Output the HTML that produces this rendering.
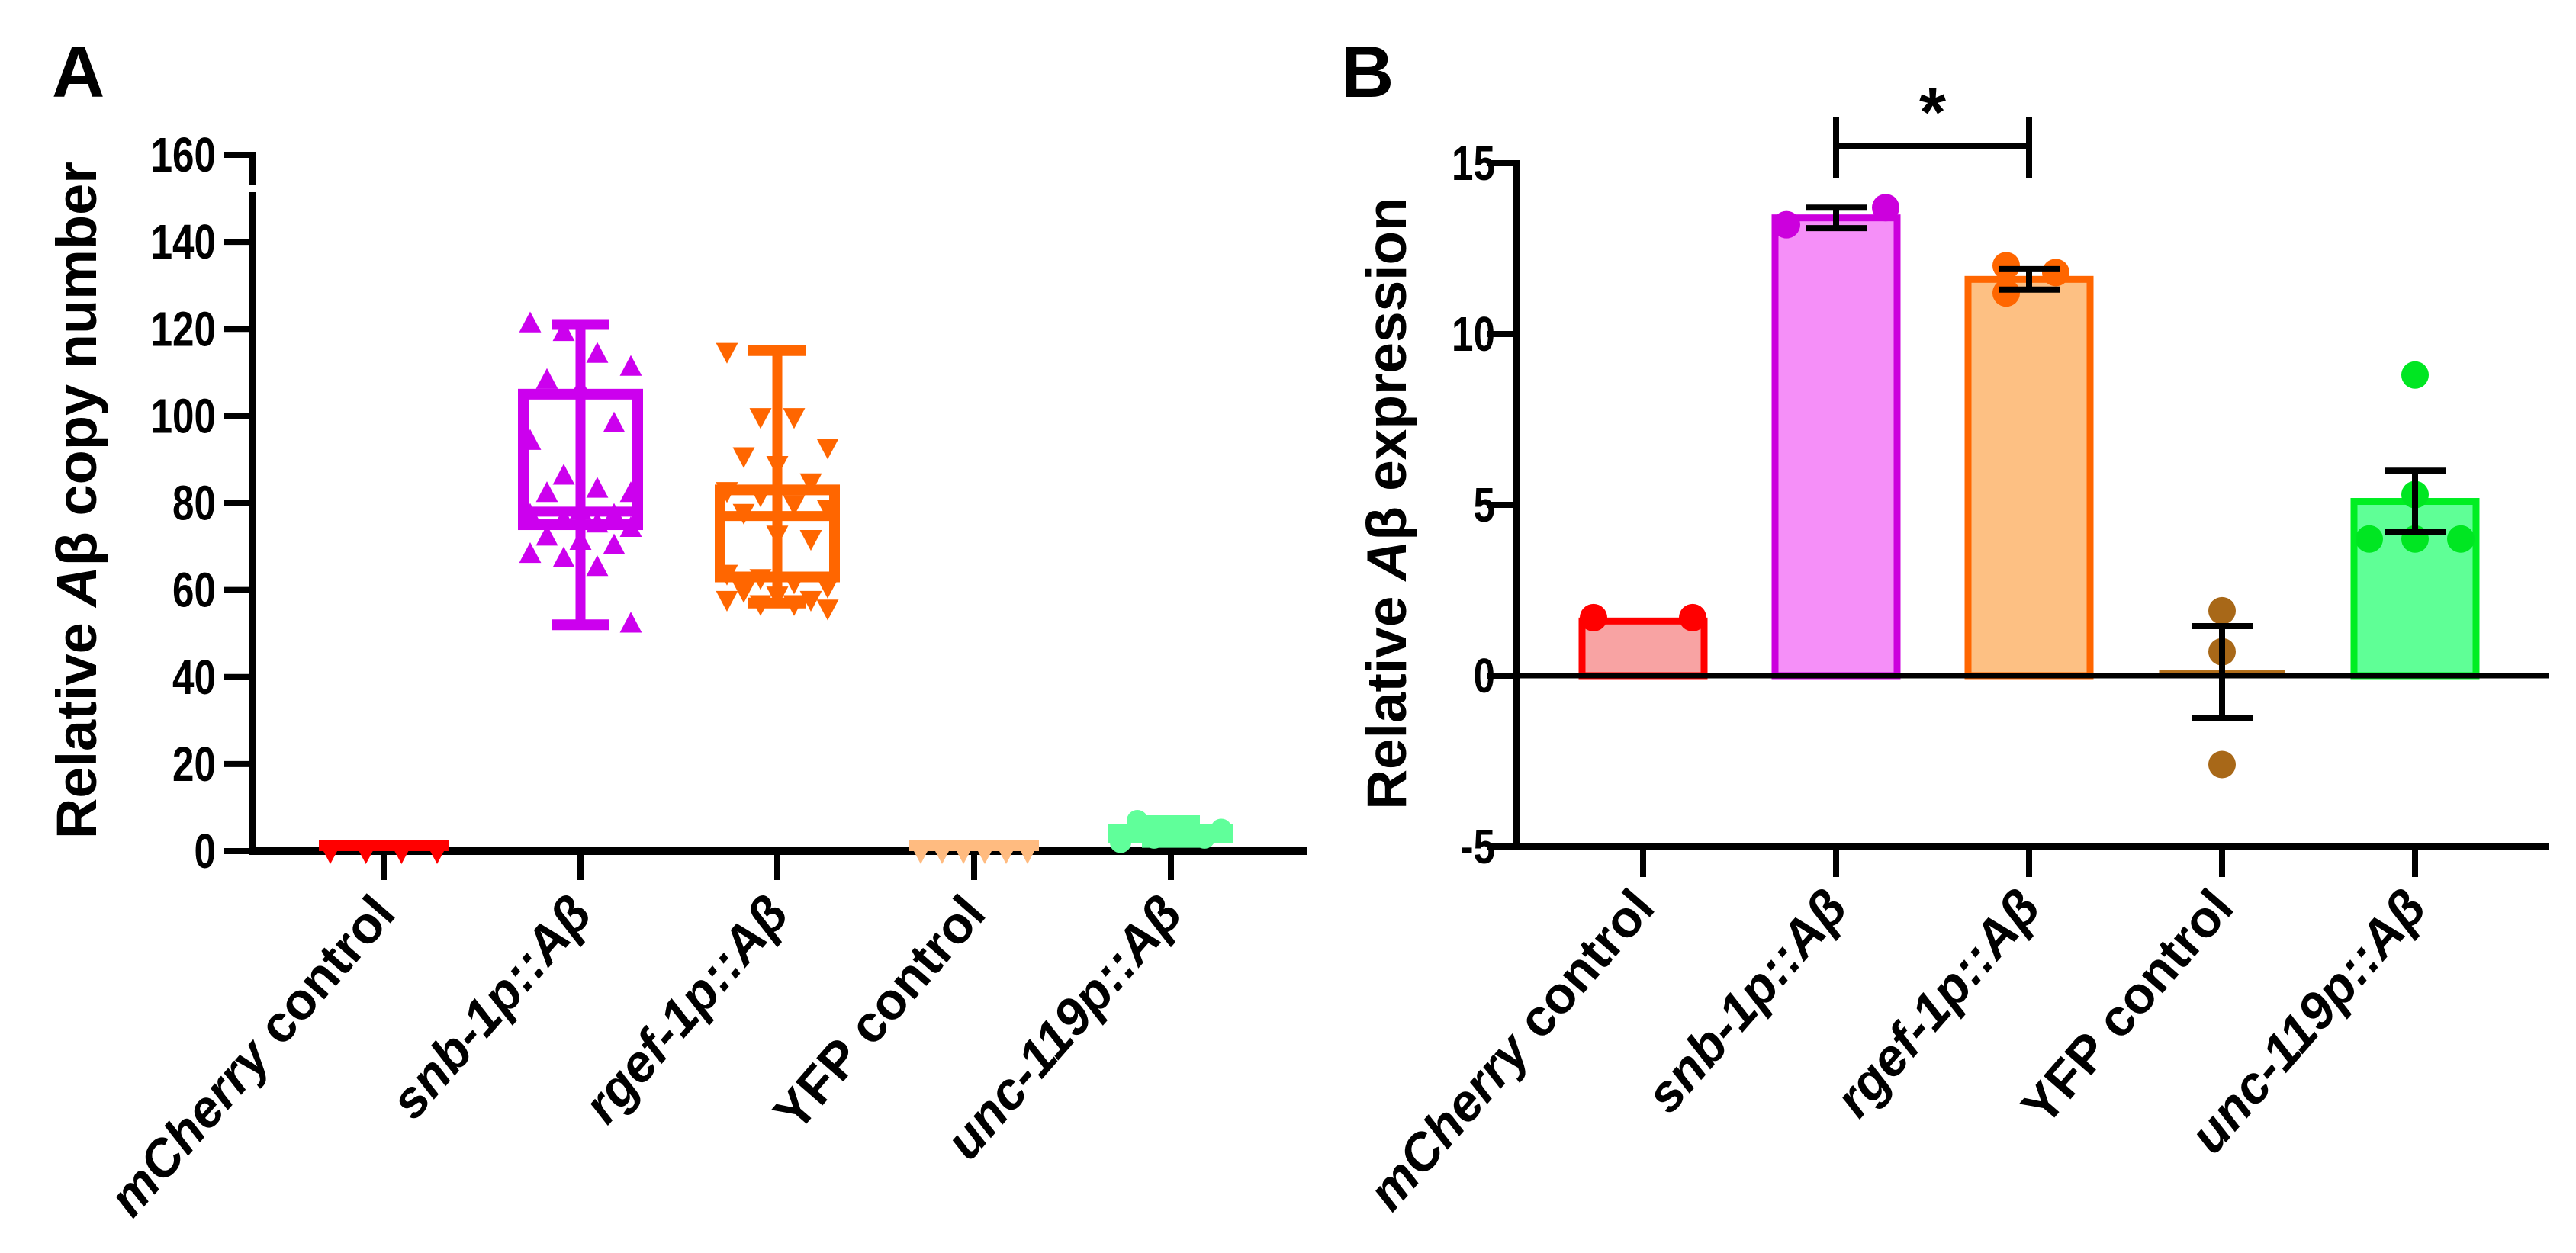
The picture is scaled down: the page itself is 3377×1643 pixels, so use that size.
<!DOCTYPE html>
<html><head><meta charset="utf-8"><style>
html,body{margin:0;padding:0;background:#fff}
svg{display:block;font-family:"Liberation Sans",Arial,sans-serif;font-weight:bold}
</style></head><body>
<svg id="fig" width="3377" height="1643" viewBox="0 0 3377 1643" xmlns="http://www.w3.org/2000/svg">
<rect width="3377" height="1643" fill="#fff"/>
<text x="68" y="127" font-size="96">A</text>
<text x="1758" y="127" font-size="96">B</text>
<g id="pa"></g>
<g id="pb"></g>
</svg>
<script>
const categories = ["mCherry control","snb-1p::Aβ","rgef-1p::Aβ","YFP control","unc-119p::Aβ"];
const aTicks = [0,20,40,60,80,100,120,140,160];
const bTicks = [-5,0,5,10,15];
// Panel A box stats: [min, q1, median, q3, max]
const aBoxes = [[0,0,0.5,1.5,1.5],[52,75,78,105,121],[57,63,77,83,115],[0,0,0.5,1.5,1.5],[2,3,4,5,7]];
const aSnbPts = [121,119,114,111,108,106,98,94,86,83,82,82,78,77,77,76,75,74,72,71,70,68,67,65,52];
const aRgefPts = [115,100,100,93,91,89,85,83,82,80,79,78,73,72,64,63,62,61,60,59,58,58,57,57,56];
const aMchPts = [0.5,0.5,0.5,0.5];
const aYfpPts = [0.5,0.5,0.5,0.5,0.5,0.5];
const aUncPts = [2,3,4,5,7,4,3];
// Panel B
const bMeans = [1.6,13.4,11.6,0.1,5.1];
const bSem = [0,0.3,0.3,1.35,0.9];
const bPts = [[1.7,1.7],[13.2,13.7],[12.0,11.2,11.8],[1.9,0.7,-2.6],[8.8,5.3,4.0,4.0,4.0]];

const NS="http://www.w3.org/2000/svg";
function mk(p,t,a){const e=document.createElementNS(NS,t);for(const k in a)e.setAttribute(k,a[k]);p.appendChild(e);return e;}
const pa=document.getElementById('pa'), pb=document.getElementById('pb');

// ---------- Panel A ----------
const ax0=331, ax1=1713, ay0=1116, ay160=203;
const ya=v=>ay0+(ay160-ay0)*v/160;
const xa=i=>503+i*258;
const aStroke=["#ff0000","#cc00ee","#ff6600","#ffbb80","#60ff9a"];
let e;
e=mk(pa,'line',{x1:ax0,y1:ya(0)+4,x2:ax0,y2:252,stroke:'#000','stroke-width':9});

e=mk(pa,'line',{x1:ax0,y1:243,x2:ax0,y2:ya(160)-4,stroke:'#000','stroke-width':9});

e=mk(pa,'line',{x1:ax0-4,y1:ya(0),x2:ax1,y2:ya(0),stroke:'#000','stroke-width':10});

aTicks.forEach(v=>{
  e=mk(pa,'line',{x1:ax0-38,y1:ya(v),x2:ax0,y2:ya(v),stroke:'#000','stroke-width':8});
  
  e=mk(pa,'text',{transform:`translate(283,${ya(v)+22}) scale(0.8,1)`,'font-size':64,'text-anchor':'end'});e.textContent=v;
  
});
const yt=mk(pa,'text',{transform:'translate(126,656) rotate(-90)','font-size':74,'text-anchor':'middle'});

yt.innerHTML='Relative <tspan font-style="italic">A</tspan>β  copy number';

function drawBox(i,b,col,w){
  const cx=xa(i),g=mk(pa,'g',{});
  
  mk(g,'line',{x1:cx,y1:ya(b[0]),x2:cx,y2:ya(b[4]),stroke:col,'stroke-width':13});
  mk(g,'line',{x1:cx-38,y1:ya(b[0]),x2:cx+38,y2:ya(b[0]),stroke:col,'stroke-width':14});
  mk(g,'line',{x1:cx-38,y1:ya(b[4]),x2:cx+38,y2:ya(b[4]),stroke:col,'stroke-width':14});
  mk(g,'rect',{x:cx-w/2,y:ya(b[3]),width:w,height:Math.max(ya(b[1])-ya(b[3]),1),fill:'none',stroke:col,'stroke-width':14});
  mk(g,'line',{x1:cx-w/2,y1:ya(b[2]),x2:cx+w/2,y2:ya(b[2]),stroke:col,'stroke-width':13});
}
function tri(g,x,y,up,col,s){
  const p=up?[[x,y-s],[x-s*0.85,y+s*0.6],[x+s*0.85,y+s*0.6]]:[[x,y+s],[x-s*0.85,y-s*0.6],[x+s*0.85,y-s*0.6]];
  return mk(g,'polygon',{points:p.map(q=>q.join(',')).join(' '),fill:col});
}
function drawPts(i,pts,col,kind){
  const g=mk(pa,'g',{});
  
  pts.forEach((v,k)=>{
    const off=((k*37)%7-3)*22;
    const x=xa(i)+off;
    if(kind==='c') mk(g,'circle',{cx:x,cy:ya(v),r:14,fill:col});
    else tri(g,x,ya(v),kind==='u',col,17);
  });
}
[[0,aMchPts],[3,aYfpPts]].forEach(([i,pts])=>{
  const g=mk(pa,'g',{});
  mk(g,'rect',{x:xa(i)-85,y:ya(aBoxes[i][3])-6,width:170,height:ya(0)-ya(aBoxes[i][3])+6,fill:aStroke[i]});
  pts.forEach((v,k)=>tri(g,xa(i)-70+k*(140/(pts.length-1)),ya(0)+6,false,aStroke[i],11));
});
drawBox(1,aBoxes[1],aStroke[1],150);
drawPts(1,aSnbPts,aStroke[1],'u');
drawBox(2,aBoxes[2],aStroke[2],150);
drawPts(2,aRgefPts,aStroke[2],'d');
drawBox(4,aBoxes[4],aStroke[4],150);
drawPts(4,aUncPts,aStroke[4],'c');
categories.forEach((c,i)=>{
  e=mk(pa,'line',{x1:xa(i),y1:ya(0),x2:xa(i),y2:ya(0)+38,stroke:'#000','stroke-width':8});
  
});

// ---------- Panel B ----------
const bx0=1988, bx1=3341;
const yb=v=>886-v*44.8;
const xb=i=>2154+i*253;
const bFill=["#f8a3a3","#f58ff8","#fdc083","#fdb97d","#5fff96"];
const bStroke=["#ff0000","#cc00dd","#ff6600","#b06d1a","#00ee22"];
const bDot=["#ff0000","#cc00dd","#ff6600","#a86818","#00e622"];
e=mk(pb,'line',{x1:bx0,y1:yb(-5)+4,x2:bx0,y2:yb(15)-4,stroke:'#000','stroke-width':9});

bTicks.forEach(v=>{
  e=mk(pb,'line',{x1:bx0-38,y1:yb(v),x2:bx0,y2:yb(v),stroke:'#000','stroke-width':8});
  
  e=mk(pb,'text',{transform:`translate(1960,${yb(v)+22}) scale(0.8,1)`,'font-size':64,'text-anchor':'end'});e.textContent=v;
  
});
const yt2=mk(pb,'text',{transform:'translate(1843,660) rotate(-90)','font-size':73,'text-anchor':'middle'});

yt2.innerHTML='Relative <tspan font-style="italic">A</tspan>β  expression';
bMeans.forEach((m,i)=>{
  const g=mk(pb,'g',{});
  
  const top=Math.min(yb(m),yb(0)),h=Math.abs(yb(m)-yb(0));
  mk(g,'rect',{x:xb(i)-80,y:top,width:160,height:Math.max(h,2),fill:bFill[i],stroke:bStroke[i],'stroke-width':i===3?5:9});
});
e=mk(pb,'line',{x1:bx0,y1:yb(0),x2:bx1,y2:yb(0),stroke:'#000','stroke-width':7});

bPts.forEach((pts,i)=>{
  const g=mk(pb,'g',{});
  
  pts.forEach((v,k)=>{
    const n=pts.length;
    let off = n===1?0:(i===3?0:(k-(n-1)/2)*(130/(n-1)));
    if(i===4){off=[0,0,-60,0,60][k];}
    if(i===2){off=[-30,-30,35][k];}
    mk(g,'circle',{cx:xb(i)+off,cy:yb(v),r:18,fill:bDot[i]});
  });
  if(bSem[i]>0){
    const c=xb(i);
    const eg=mk(pb,'g',{});
    mk(eg,'line',{x1:c,y1:yb(bMeans[i]-bSem[i]),x2:c,y2:yb(bMeans[i]+bSem[i]),stroke:'#000','stroke-width':8});
    [bMeans[i]-bSem[i],bMeans[i]+bSem[i]].forEach(v=>mk(eg,'line',{x1:c-40,y1:yb(v),x2:c+40,y2:yb(v),stroke:'#000','stroke-width':8}));
  }
});
e=mk(pb,'line',{x1:bx0-4,y1:yb(-5),x2:bx1,y2:yb(-5),stroke:'#000','stroke-width':10});

categories.forEach((c,i)=>{
  e=mk(pb,'line',{x1:xb(i),y1:yb(-5),x2:xb(i),y2:yb(-5)+40,stroke:'#000','stroke-width':8});
  
});
const sg=mk(pb,'g',{});
mk(sg,'line',{x1:xb(1),y1:192,x2:xb(2),y2:192,stroke:'#000','stroke-width':8});
mk(sg,'line',{x1:xb(1),y1:153,x2:xb(1),y2:234,stroke:'#000','stroke-width':8});
mk(sg,'line',{x1:xb(2),y1:153,x2:xb(2),y2:234,stroke:'#000','stroke-width':8});
e=mk(sg,'text',{x:(xb(1)+xb(2))/2,y:178,'font-size':90,'text-anchor':'middle'});e.textContent='*';

function labels(p,xf,baseY,pre){
  categories.forEach((c,i)=>{
    const t=mk(p,'text',{transform:`translate(${xf(i)+18},${baseY}) rotate(-49)`,'font-size':68,'text-anchor':'end'});
    
    if(i===0) t.innerHTML='<tspan font-style="italic">mCherry</tspan> control';
    else if(i===3) t.textContent='YFP control';
    else t.innerHTML='<tspan font-style="italic">'+c+'</tspan>';
  });
}
labels(pa,xa,1200,'a');
labels(pb,xb,1192,'b');
</script>
</body></html>
